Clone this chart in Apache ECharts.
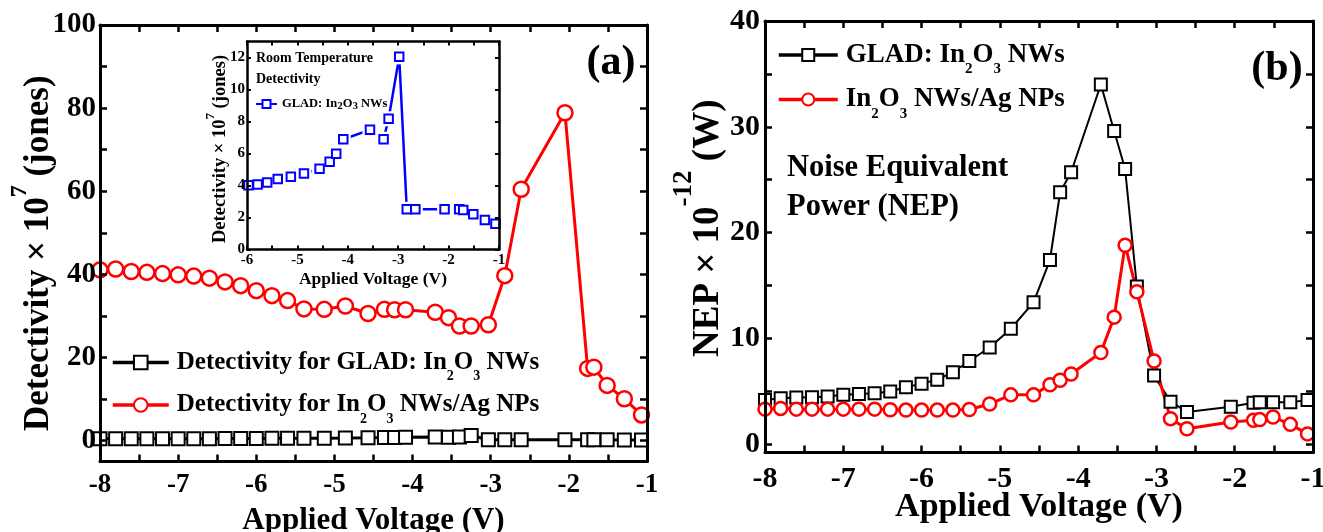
<!DOCTYPE html>
<html>
<head>
<meta charset="utf-8">
<script src="https://cdn.jsdelivr.net/npm/echarts@6/dist/echarts.min.js"></script>
<style>
  html, body { margin: 0; padding: 0; background: #fff; }
  #chart { width: 1323px; height: 532px; }
</style>
</head>
<body>
<div id="chart"></div>
<script>
// Bias voltages (V) shared by both main panels
const voltage = [-8.0, -7.8, -7.6, -7.4, -7.2, -7.0, -6.8, -6.6, -6.4, -6.2, -6.0, -5.8, -5.6,
  -5.39, -5.13, -4.86, -4.57, -4.36, -4.23, -4.09, -3.71, -3.54, -3.40, -3.25, -3.03,
  -2.82, -2.61, -2.05, -1.76, -1.68, -1.51, -1.29, -1.07];

// (a) Detectivity x 10^7 (jones)
const detGlad = [0.45, 0.45, 0.46, 0.47, 0.48, 0.49, 0.5, 0.5, 0.52, 0.53, 0.55, 0.57, 0.6,
  0.6, 0.62, 0.65, 0.7, 0.75, 0.8, 0.85, 0.9, 0.85, 0.9, 1.25, 0.25,
  0.25, 0.25, 0.25, 0.25, 0.25, 0.22, 0.2, 0.18];
const detAgNp = [41.1, 41.3, 40.7, 40.5, 40.2, 39.9, 39.6, 39.1, 38.2, 37.3, 36.1, 34.9, 33.7,
  31.7, 31.6, 32.4, 30.6, 31.6, 31.5, 31.5, 30.9, 29.6, 27.6, 27.6, 27.9,
  39.7, 60.5, 78.9, 17.4, 17.7, 13.3, 10.1, 6.2];

// (a) inset: room temperature detectivity of the bare nanowires
const insetVoltage = [-5.97, -5.79, -5.60, -5.39, -5.13, -4.87, -4.56, -4.36, -4.23, -4.09, -3.56,
  -3.29, -3.19, -2.98, -2.83, -2.66, -2.08, -1.79, -1.71, -1.51, -1.28, -1.07];
const insetDet = [4.02, 4.06, 4.19, 4.40, 4.54, 4.75, 5.05, 5.49, 5.99, 6.89, 7.48,
  6.89, 8.17, 12.04, 2.51, 2.51, 2.51, 2.51, 2.47, 2.20, 1.84, 1.61];

// (b) NEP x 10^-12 (W)
const nepGlad = [4.17, 4.33, 4.39, 4.42, 4.49, 4.65, 4.74, 4.81, 4.97, 5.38, 5.71, 6.09, 6.79,
  7.85, 9.13, 10.9, 13.4, 17.4, 23.8, 25.7, 34.0, 29.6, 26.0, 14.9, 6.47,
  4.01, 3.04, 3.53, 3.91, 3.94, 3.94, 3.94, 4.17];
const nepAgNp = [3.30, 3.37, 3.30, 3.30, 3.30, 3.30, 3.30, 3.30, 3.24, 3.21, 3.21, 3.21, 3.21,
  3.27, 3.78, 4.65, 4.65, 5.61, 6.03, 6.63, 8.65, 12.0, 18.8, 14.4, 7.85,
  2.40, 1.44, 2.08, 2.24, 2.31, 2.56, 1.86, 0.96];

// Tick labels and tick marks
const voltLabels = [-8, -7, -6, -5, -4, -3, -2, -1];
const voltTicks = [-8, -7.5, -7, -6.5, -6, -5.5, -5, -4.5, -4, -3.5, -3, -2.5, -2, -1.5, -1];
const detLabels = [0, 20, 40, 60, 80, 100];
const detTicks = [0, 10, 20, 30, 40, 50, 60, 70, 80, 90, 100];
const nepLabels = [0, 10, 20, 30, 40];
const nepTicks = [0, 5, 10, 15, 20, 25, 30, 35, 40];
const insetVoltLabels = [-6, -5, -4, -3, -2, -1];
const insetVoltTicks = [-6, -5.5, -5, -4.5, -4, -3.5, -3, -2.5, -2, -1.5, -1];
const insetDetLabels = [0, 2, 4, 6, 8, 10, 12];

// Legend entries (rich text: {s|..} = subscript)
const legendText = {
  'det-glad': 'Detectivity for GLAD: In{s|2}O{s|3} NWs',
  'det-ag': 'Detectivity for In{s|2}O{s|3} NWs/Ag NPs',
  'inset-glad': 'GLAD: In{s|2}O{s|3} NWs',
  'nep-glad': 'GLAD: In{s|2}O{s|3} NWs',
  'nep-ag': 'In{s|2}O{s|3} NWs/Ag NPs'
};

const FONT = "'Liberation Serif', 'Times New Roman', serif";
const pairs = (xs, ys) => xs.map((x, i) => [x, ys[i]]);

function axis(gridIndex, position, min, max, labelVals, tickVals, o) {
  const ax = {
    type: 'value', gridIndex, position, min, max, z: o.z || 3,
    splitLine: { show: false },
    axisLine: { show: true, onZero: false, lineStyle: { color: '#000', width: o.lw } },
    axisTick: { show: true, inside: true, length: o.tl, customValues: tickVals,
      lineStyle: { color: '#000', width: o.tw } },
    axisLabel: { show: !!o.labels, customValues: labelVals, margin: o.margin || 8,
      fontFamily: FONT, fontWeight: 'bold', fontSize: o.fs || 12, color: '#000' }
  };
  if (o.name) {
    ax.name = o.name;
    ax.nameLocation = 'middle';
    ax.nameGap = o.nameGap;
    ax.nameMoveOverlap = false;
    if (o.nameRotate) ax.nameRotate = o.nameRotate;
    ax.nameTextStyle = o.nameStyle;
  }
  return ax;
}

const mainAx = { lw: 3, tl: 7, tw: 2.5 };
const insetAx = { lw: 2.5, tl: 4, tw: 2, z: 14 };

const option = {
  animation: false,
  backgroundColor: '#fff',
  grid: [
    { left: 100, top: 25, width: 547, height: 436.5, outerBoundsMode: 'none', containLabel: false },
    { left: 247, top: 41.5, width: 252, height: 208, show: true, backgroundColor: '#fff', borderWidth: 0, z: 10,
      outerBoundsMode: 'none', containLabel: false },
    { left: 765, top: 21, width: 548, height: 431.5, outerBoundsMode: 'none', containLabel: false }
  ],
  xAxis: [
    axis(0, 'bottom', -8, -1, voltLabels, voltTicks, Object.assign({}, mainAx, {
      labels: true, fs: 27, margin: 10, name: 'Applied Voltage (V)', nameGap: 44,
      nameStyle: { fontFamily: FONT, fontWeight: 'bold', fontSize: 31, color: '#000' } })),
    axis(0, 'top', -8, -1, voltLabels, voltTicks, mainAx),
    axis(1, 'bottom', -6, -1, insetVoltLabels, insetVoltTicks, Object.assign({}, insetAx, {
      labels: true, fs: 15, margin: 3, name: 'Applied Voltage (V)', nameGap: 21,
      nameStyle: { fontFamily: FONT, fontWeight: 'bold', fontSize: 17.5, color: '#000' } })),
    axis(1, 'top', -6, -1, insetVoltLabels, insetVoltTicks, insetAx),
    axis(2, 'bottom', -8, -1, voltLabels, voltTicks, Object.assign({}, mainAx, {
      labels: true, fs: 30, margin: 12, name: 'Applied Voltage (V)', nameGap: 37.5,
      nameStyle: { fontFamily: FONT, fontWeight: 'bold', fontSize: 34, color: '#000' } })),
    axis(2, 'top', -8, -1, voltLabels, voltTicks, mainAx)
  ],
  yAxis: [
    axis(0, 'left', -5, 100, detLabels, detTicks, Object.assign({}, mainAx, {
      labels: true, fs: 29, margin: 4, name: 'Detectivity \u00d7 10{sup|7} (jones)', nameGap: 30, nameRotate: 90,
      nameStyle: { fontFamily: FONT, fontWeight: 'bold', fontSize: 35, color: '#000', padding: [0, 20, 0, 0],
        rich: { sup: { fontFamily: FONT, fontWeight: 'bold', fontSize: 24, color: '#000', padding: [0, 0, 38, 0] } } } })),
    axis(0, 'right', -5, 100, detLabels, detTicks, mainAx),
    axis(1, 'left', 0, 13, insetDetLabels, insetDetLabels, Object.assign({}, insetAx, {
      labels: true, fs: 15, margin: 2, name: 'Detectivity \u00d7 10{sup|7} (jones)', nameGap: 11, nameRotate: 90,
      nameStyle: { fontFamily: FONT, fontWeight: 'bold', fontSize: 18.5, color: '#000', padding: [0, 7, 0, 0],
        rich: { sup: { fontFamily: FONT, fontWeight: 'bold', fontSize: 13, color: '#000', padding: [0, 0, 19, 0] } } } })),
    axis(1, 'right', 0, 13, insetDetLabels, insetDetLabels, insetAx),
    axis(2, 'left', -0.8, 40, nepLabels, nepTicks, Object.assign({}, mainAx, {
      labels: true, fs: 30, margin: 5, name: 'NEP \u00d7 10{sup|-12} (W)', nameGap: 19.5, nameRotate: 90,
      nameStyle: { fontFamily: FONT, fontWeight: 'bold', fontSize: 37, color: '#000', padding: [0, 0, 0, 17],
        rich: { sup: { fontFamily: FONT, fontWeight: 'bold', fontSize: 27, color: '#000', padding: [0, 0, 48, 0] } } } })),
    axis(2, 'right', -0.8, 40, nepLabels, nepTicks, mainAx)
  ],
  legend: [
    {
      data: ['det-glad', 'det-ag'], orient: 'vertical', left: 111, top: 350, padding: 0,
      itemWidth: 56, itemHeight: 17, itemGap: 9,
      lineStyle: { width: 3.5 },
      formatter: n => legendText[n],
      textStyle: { fontFamily: FONT, fontWeight: 'bold', fontSize: 25, color: '#000', padding: [0, 0, 0, 3],
        rich: { s: { fontFamily: FONT, fontWeight: 'bold', fontSize: 14, color: '#000', padding: [28, 0, 0, 0] } } }
    },
    {
      data: ['inset-glad'], orient: 'vertical', left: 255, top: 97.5, z: 20, padding: 0,
      itemWidth: 21, itemHeight: 10, itemGap: 0,
      formatter: n => legendText[n],
      textStyle: { fontFamily: FONT, fontWeight: 'bold', fontSize: 12.5, color: '#000',
        rich: { s: { fontFamily: FONT, fontWeight: 'bold', fontSize: 11, color: '#000', padding: [5, 0, 0, 0] } } }
    },
    {
      data: ['nep-glad', 'nep-ag'], orient: 'vertical', left: 777, top: 41.5, padding: 0,
      itemWidth: 59, itemHeight: 15, itemGap: 9,
      lineStyle: { width: 3.5 },
      formatter: n => legendText[n],
      textStyle: { fontFamily: FONT, fontWeight: 'bold', fontSize: 27, color: '#000', padding: [0, 0, 0, 3],
        rich: { s: { fontFamily: FONT, fontWeight: 'bold', fontSize: 15, color: '#000', padding: [29, 0, 0, 0] } } }
    }
  ],
  series: [
    { name: 'det-glad', type: 'line', xAxisIndex: 0, yAxisIndex: 0, data: pairs(voltage, detGlad),
      symbol: 'rect', symbolSize: 13, z: 2,
      itemStyle: { color: '#fff', borderColor: '#000', borderWidth: 2 },
      lineStyle: { color: '#000', width: 3 } },
    { name: 'det-ag', type: 'line', xAxisIndex: 0, yAxisIndex: 0, data: pairs(voltage, detAgNp),
      symbol: 'circle', symbolSize: 15, z: 2,
      itemStyle: { color: '#fff', borderColor: '#ff0000', borderWidth: 2.5 },
      lineStyle: { color: '#ff0000', width: 3 } },
    // inset: connecting line, white gaps around the markers, then the markers
    { name: 'inset-glad', type: 'line', xAxisIndex: 2, yAxisIndex: 2, data: pairs(insetVoltage, insetDet),
      symbol: 'rect', symbolSize: 8, showSymbol: false, z: 11,
      itemStyle: { color: '#fff', borderColor: '#0000ff', borderWidth: 2 },
      lineStyle: { color: '#0000ff', width: 2.5 } },
    { name: 'inset-gap', type: 'line', xAxisIndex: 2, yAxisIndex: 2, data: pairs(insetVoltage, insetDet),
      symbol: 'rect', symbolSize: 15, z: 12, silent: true,
      itemStyle: { color: '#fff', borderWidth: 0 },
      lineStyle: { opacity: 0 } },
    { name: 'inset-mark', type: 'line', xAxisIndex: 2, yAxisIndex: 2, data: pairs(insetVoltage, insetDet),
      symbol: 'rect', symbolSize: 8.5, z: 13,
      itemStyle: { color: '#fff', borderColor: '#0000ff', borderWidth: 2 },
      lineStyle: { opacity: 0 } },
    { name: 'nep-glad', type: 'line', xAxisIndex: 4, yAxisIndex: 4, data: pairs(voltage, nepGlad),
      symbol: 'rect', symbolSize: 12, z: 2,
      itemStyle: { color: '#fff', borderColor: '#000', borderWidth: 2 },
      lineStyle: { color: '#000', width: 2 } },
    { name: 'nep-ag', type: 'line', xAxisIndex: 4, yAxisIndex: 4, data: pairs(voltage, nepAgNp),
      symbol: 'circle', symbolSize: 13, z: 2,
      itemStyle: { color: '#fff', borderColor: '#ff0000', borderWidth: 2.5 },
      lineStyle: { color: '#ff0000', width: 3 } }
  ],
  graphic: [
    { type: 'text', z: 30, style: { text: '(a)', x: 611, y: 63, align: 'center', verticalAlign: 'middle',
      font: 'bold 42px ' + FONT, fill: '#000' } },
    { type: 'text', z: 30, style: { text: '(b)', x: 1277, y: 69, align: 'center', verticalAlign: 'middle',
      font: 'bold 42px ' + FONT, fill: '#000' } },
    { type: 'text', z: 30, style: { text: 'Room Temperature\nDetectivity', x: 256, y: 47.5, lineHeight: 21,
      align: 'left', verticalAlign: 'top', font: 'bold 14px ' + FONT, fill: '#000' } },
    { type: 'text', z: 30, style: { text: 'Noise Equivalent\nPower (NEP)', x: 787, y: 148.5, lineHeight: 39,
      align: 'left', verticalAlign: 'top', font: 'bold 30.5px ' + FONT, fill: '#000' } }
  ]
};

const chart = echarts.init(document.getElementById('chart'));
chart.setOption(option);
</script>
</body>
</html>
